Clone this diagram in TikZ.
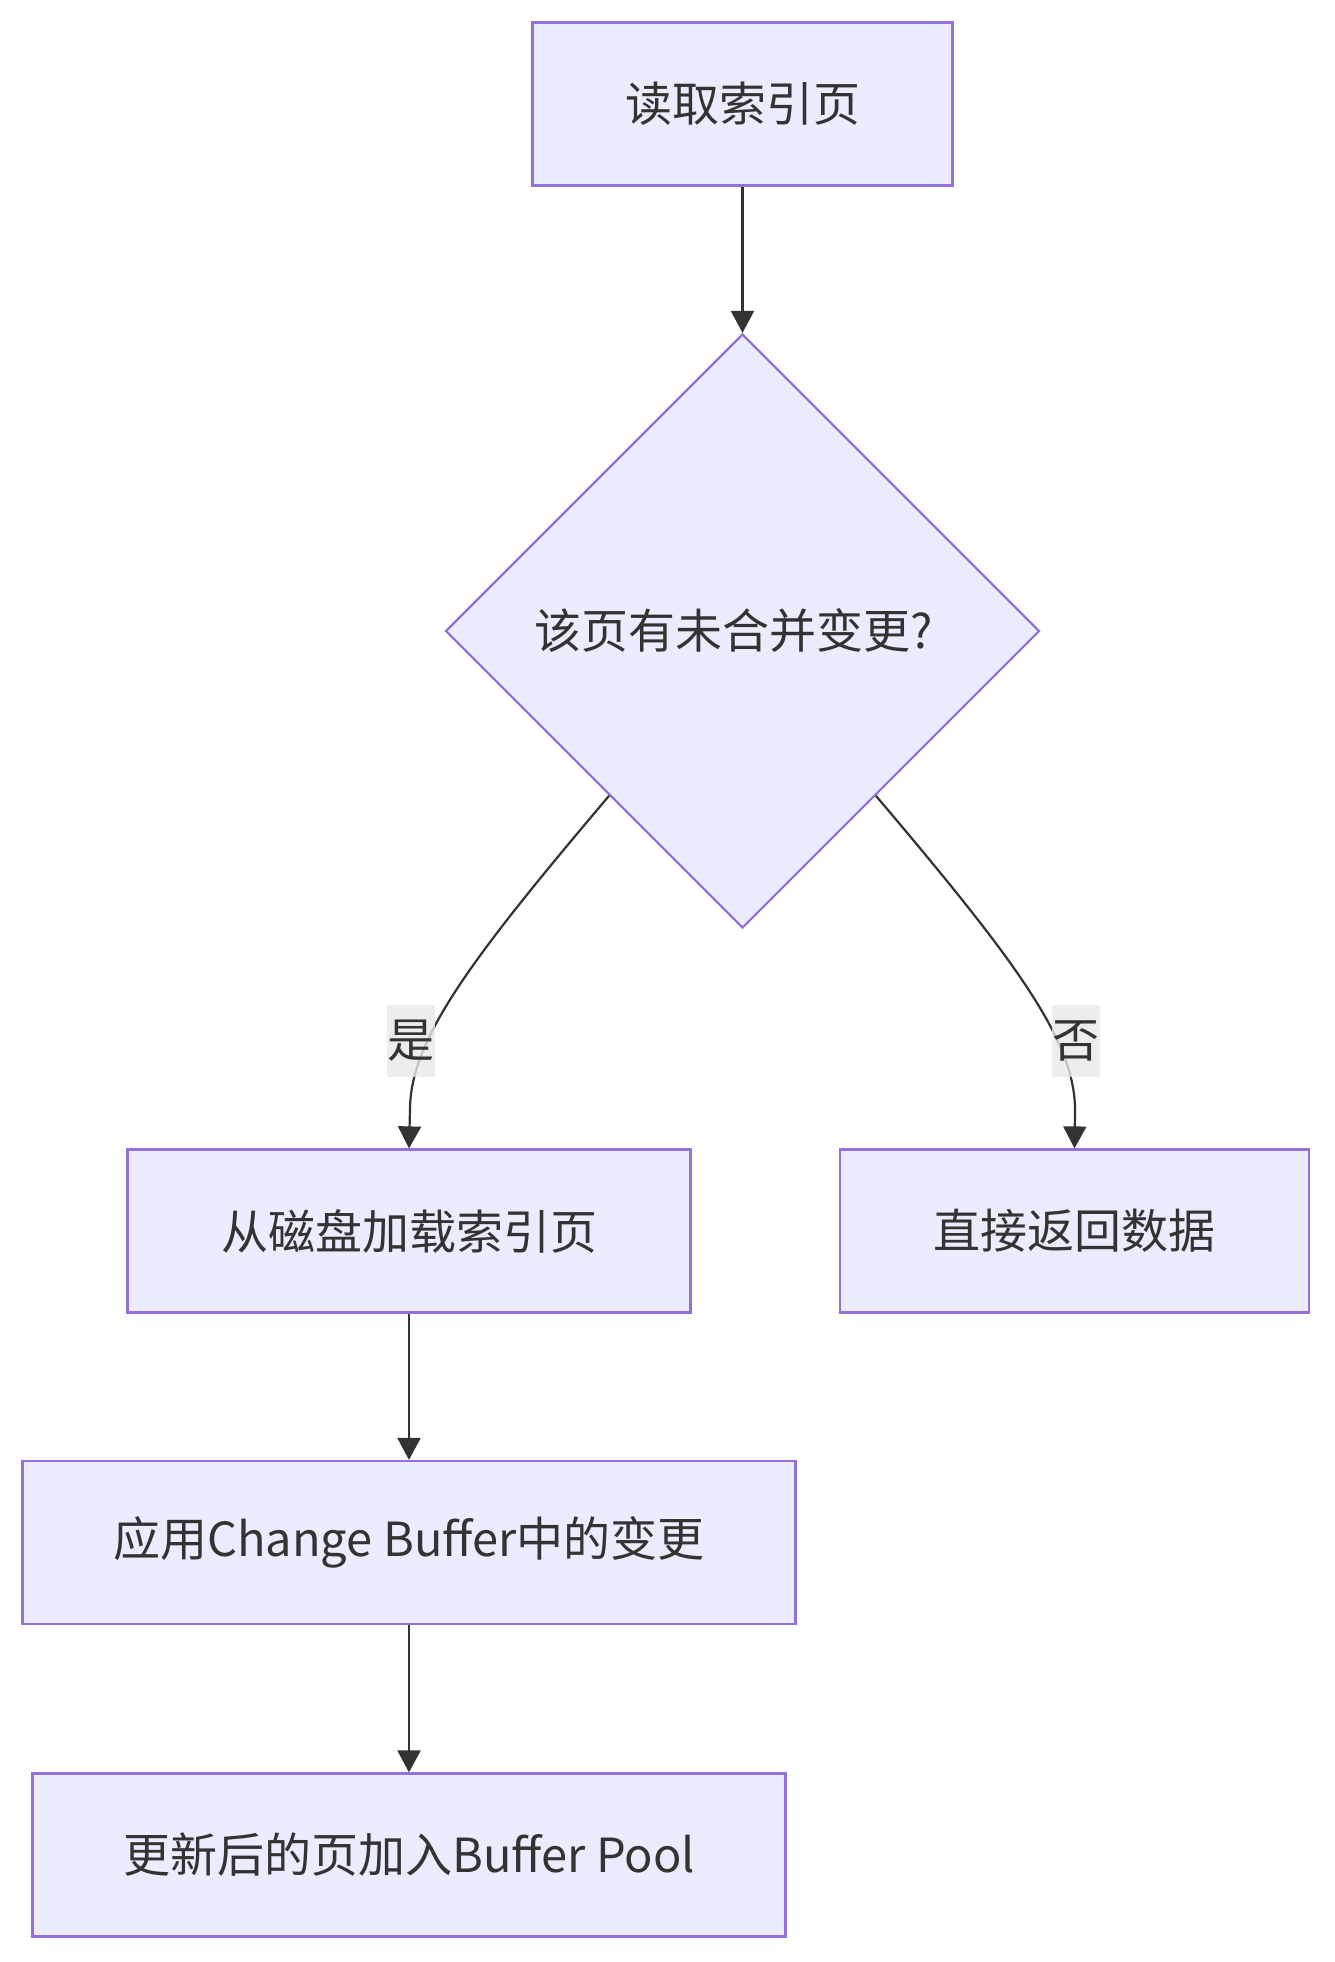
\documentclass[tikz,border=0pt]{standalone}
\usepackage{fontspec}
\setmainfont{Noto Sans CJK SC}
\usetikzlibrary{shapes.geometric,arrows.meta}
\definecolor{nodefill}{HTML}{ECECFF}
\definecolor{nodeline}{HTML}{9370DB}
\definecolor{edgeline}{HTML}{333333}
\definecolor{labelbg}{HTML}{E8E8E8}
\newcommand{\fs}{\fontsize{47pt}{56pt}\selectfont}
\begin{document}
\begin{tikzpicture}[x=1pt,y=-1pt,
  box/.style={draw=nodeline, fill=nodefill, line width=2.2pt, text=edgeline,
    inner sep=0pt, minimum height=163pt, font=\fs},
  dia/.style={diamond, draw=nodeline, fill=nodefill, line width=2.2pt, text=edgeline,
    inner sep=0pt, minimum width=594pt, minimum height=594pt, font=\fs},
  lbl/.style={fill=labelbg, fill opacity=0.8, text opacity=1, text=edgeline,
    inner sep=0pt, minimum width=48pt, minimum height=72pt, font=\fs},
  arr/.style={draw=edgeline, line width=2.2pt, -{Triangle[length=22pt,width=23pt]}}]
\useasboundingbox (0,0) rectangle (1334,1962);
\node[box, minimum width=420pt] (A) at (742.5,104) {读取索引页};
\node[dia] (B) at (742.5,631) {\kern-16pt 该页有未合并变更?\kern2pt};
\node[box, minimum width=563pt] (C) at (409,1231) {从磁盘加载索引页};
\node[box, minimum width=469pt] (D) at (1074.5,1231) {直接返回数据};
\node[box, minimum width=773pt] (E) at (409,1542.5) {应用Change Buffer中的变更};
\node[box, minimum width=753pt] (F) at (409,1855) {更新后的页加入Buffer Pool};
\draw[arr] (A) -- (B);
\draw[arr] (B.231) .. controls (470,960) and (410,1040) .. (410,1110) -- (C.north);
\draw[arr] (B.309) .. controls (1015,960) and (1075,1040) .. (1075,1110) -- (D.north);
\draw[arr] (C) -- (E);
\draw[arr] (E) -- (F);
\node[lbl] (yes) at (410.5,1040.5) {是};
\node[lbl] (no) at (1076,1040.5) {否};
\end{tikzpicture}
\end{document}
